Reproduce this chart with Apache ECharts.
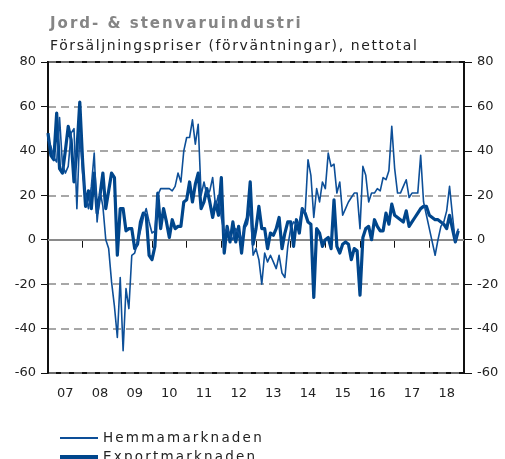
<!DOCTYPE html>
<html>
<head>
<meta charset="utf-8">
<title>Jord- & stenvaruindustri</title>
<script src="https://cdn.jsdelivr.net/npm/echarts@6/dist/echarts.min.js"></script>
<style>
  html, body { margin: 0; padding: 0; background: #fff; }
  #chart { width: 505px; height: 459px; }
</style>
</head>
<body>
<div id="chart"></div>
<script>
// Year labels on the time axis (2007 – 2018)
const yearLabels = ['07', '08', '09', '10', '11', '12', '13', '14', '15', '16', '17', '18'];

// Monthly net balances, Jan 2007 onwards
const hemmamarknaden = [
  45, 42, 37, 35, 55, 34, 30, 33, 48, 50, 14, 48,
  30, 20, 14, 24, 39, 8, 22, 15, 0, -4, -19, -30,
  -44, -17, -50, -22, -31, -7, -6, -1, 4, 10, 14, 8,
  3, 4, 20, 23, 23, 23, 23, 22, 24, 30, 26, 40,
  46, 46, 54, 43, 52, 20, 26, 20, 22, 28, 15, 20,
  10, 3, 5, 2, 0, 5, 3, 0, 5, 7, 14, -7,
  -4, -9, -20, -6, -10, -7, -10, -13, -7, -15, -17, -3,
  5, 8, 7, 8, 14, 12, 36, 29, 10, 23, 17, 26,
  23, 39, 33, 34, 21, 26, 11, 14, 17, 19, 21, 21,
  5, 33, 29, 17, 21, 21, 23, 22, 28, 27, 31, 51,
  32, 21, 21, 24, 27, 19, 21, 21, 21, 38, 17, 11,
  5, -1, -7, 0, 6, 8, 13, 24, 11, -1, 5
];
const exportmarknaden = [
  48, 38, 36, 57, 32, 30, 40, 51, 45, 26, 40, 62,
  35, 15, 22, 14, 30, 12, 20, 30, 14, 22, 30, 28,
  -7, 14, 14, 4, 5, 5, -4, -2, 8, 12, 11, -7,
  -9, -3, 21, 5, 14, 8, 1, 9, 5, 6, 6, 17,
  18, 26, 17, 25, 30, 14, 17, 23, 17, 10, 17, 11,
  28, -6, 6, -1, 8, -1, 6, -6, 6, 10, 26, -2,
  5, 15, 5, 5, -4, 3, 2, 5, 10, -4, 3, 8,
  8, -3, 9, 3, 14, 12, 8, 7, -26, 5, 3, -3,
  0, 1, -4, 18, -3, -6, -2, -1, -2, -9, -4, -5,
  -25, 1, 5, 6, 0, 9, 6, 4, 4, 12, 7, 16,
  11, 10, 9, 8, 13, 6, 8, 10, 12, 14, 15, 15,
  11, 10, 9, 9, 8, 7, 5, 11, 5, -1, 4
];

// Value axis ticks
const yTicks = { min: -60, max: 80, step: 20 };

// Month categories: 12 per year plus the closing boundary of the last year
const months = [];
yearLabels.forEach(function (y) {
  for (let m = 1; m <= 12; m++) months.push(y + '-' + (m < 10 ? '0' + m : m));
});
months.push('19-01');

// Tracked text: a marker family name in the font list turns on letter spacing
const TRACKING = { 'trk-wide': '2px', 'trk-mid': '1.6px', 'trk-leg': '2.2px' };
const baseFillText = CanvasRenderingContext2D.prototype.fillText;
CanvasRenderingContext2D.prototype.fillText = function (text, x, y, maxWidth) {
  let spacing = '0px';
  const f = this.font || '';
  for (const k in TRACKING) { if (f.indexOf(k) >= 0) spacing = TRACKING[k]; }
  if ('letterSpacing' in this) this.letterSpacing = spacing;
  return maxWidth === undefined ? baseFillText.call(this, text, x, y) : baseFillText.call(this, text, x, y, maxWidth);
};

const FONT = "'DejaVu Sans', Verdana, sans-serif";
const AXIS_BLACK = '#111';
const GRID_GREY = '#8a8a8a';

const chart = echarts.init(document.getElementById('chart'), null, { renderer: 'canvas' });

const labelStyle = { color: '#222', fontSize: 13, fontFamily: FONT };
const legendText = { color: '#222', fontSize: 13.5, fontFamily: "'DejaVu Sans', trk-leg" };

chart.setOption({
  animation: false,
  backgroundColor: '#fff',
  title: {
    text: 'Jord- & stenvaruindustri',
    subtext: 'Försäljningspriser (förväntningar), nettotal',
    left: 45,
    top: 12,
    itemGap: 7,
    textStyle: { color: '#858585', fontSize: 15, fontWeight: 'bold', fontFamily: "'DejaVu Sans', trk-wide" },
    subtextStyle: { color: '#222', fontSize: 14, fontFamily: "'DejaVu Sans', trk-mid" }
  },
  legend: [
    {
      data: ['Hemmamarknaden'],
      left: 55, top: 426,
      icon: 'rect', itemWidth: 38, itemHeight: 2, itemGap: 10,
      textStyle: legendText
    },
    {
      data: ['Exportmarknaden'],
      left: 55, top: 445,
      icon: 'rect', itemWidth: 38, itemHeight: 4, itemGap: 10,
      textStyle: legendText
    }
  ],
  grid: {
    left: 48, right: 41, top: 62, bottom: 86,
    show: true, borderColor: AXIS_BLACK, borderWidth: 2, backgroundColor: 'transparent'
  },
  xAxis: {
    type: 'category',
    data: months,
    boundaryGap: false,
    axisLine: { lineStyle: { color: AXIS_BLACK, width: 2 } },
    axisTick: {
      show: true, length: 8, inside: false,
      interval: function (i) { return i % 12 === 0; },
      lineStyle: { color: AXIS_BLACK, width: 1 }
    },
    axisLabel: Object.assign({
      interval: function (i) { return i % 12 === 6; },
      formatter: function (v) { return v.split('-')[0]; },
      margin: 14
    }, labelStyle),
    splitLine: { show: false }
  },
  yAxis: [
    {
      type: 'value', position: 'left',
      min: yTicks.min, max: yTicks.max, interval: yTicks.step,
      axisLine: { show: true, lineStyle: { color: AXIS_BLACK, width: 2 } },
      axisTick: { show: true, length: 7, lineStyle: { color: AXIS_BLACK, width: 1 } },
      axisLabel: Object.assign({ margin: 12 }, labelStyle),
      splitLine: { show: true, lineStyle: { color: GRID_GREY, width: 1.5, type: [8, 5] } }
    },
    {
      type: 'value', position: 'right',
      min: yTicks.min, max: yTicks.max, interval: yTicks.step,
      axisLine: { show: true, lineStyle: { color: AXIS_BLACK, width: 2 } },
      axisTick: { show: true, length: 8, lineStyle: { color: AXIS_BLACK, width: 1 } },
      axisLabel: Object.assign({ margin: 13 }, labelStyle),
      splitLine: { show: false }
    }
  ],
  series: [
    {
      name: 'Exportmarknaden',
      type: 'line',
      data: exportmarknaden,
      showSymbol: false,
      color: '#00468c',
      lineStyle: { color: '#00468c', width: 3.2, join: 'round' },
      z: 3,
      markLine: {
        silent: true, symbol: 'none', label: { show: false },
        lineStyle: { color: GRID_GREY, width: 2, type: 'solid' },
        data: [{ yAxis: 0 }],
        z: 1
      }
    },
    {
      name: 'Hemmamarknaden',
      type: 'line',
      data: hemmamarknaden,
      showSymbol: false,
      color: '#0d4f98',
      lineStyle: { color: '#0d4f98', width: 1.6, join: 'round' },
      z: 4
    }
  ]
});
</script>
</body>
</html>
